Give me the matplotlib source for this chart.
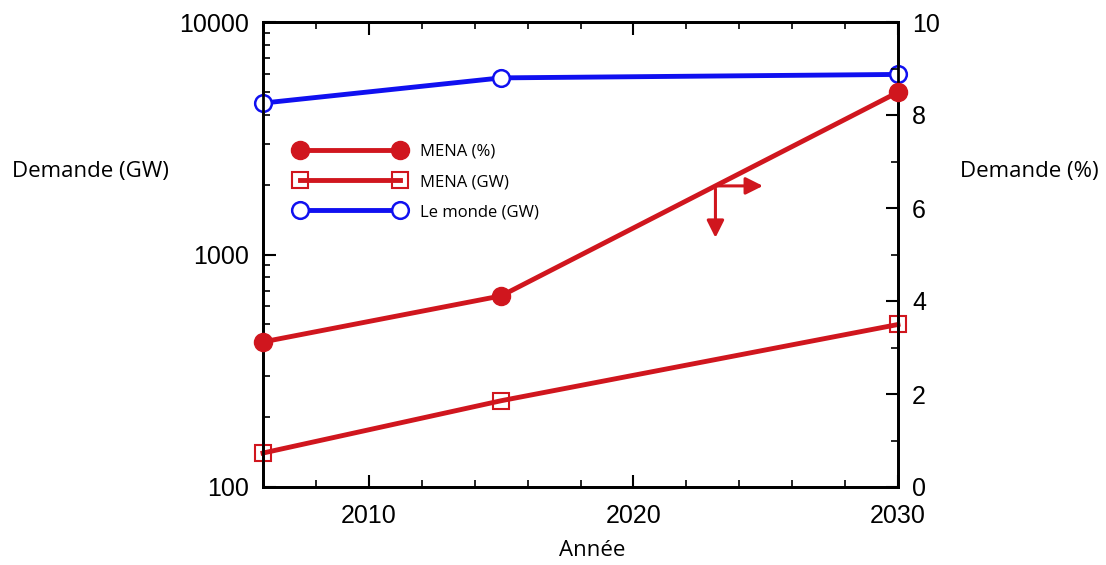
import matplotlib
matplotlib.use("Agg")
import matplotlib.pyplot as plt
from matplotlib.ticker import MultipleLocator, LogLocator, NullFormatter, FuncFormatter

years = [2006, 2015, 2030]
world_gw = [4480, 5750, 5950]
mena_gw = [140, 235, 500]
mena_pct = [3.12, 4.11, 8.49]

RED = "#d0161e"
BLUE = "#1010f0"
TICK_FONT = "Liberation Sans"
LABEL_FONT = "Open Sans"

fig = plt.figure(figsize=(11.06, 5.65), dpi=100)
ax = fig.add_axes([263 / 1106, 1 - 487 / 565, 635 / 1106, 465 / 565])
ax2 = ax.twinx()

h_world, = ax.plot(years, world_gw, color=BLUE, lw=3.5, marker="o", ms=12,
                   mfc="white", mec=BLUE, mew=1.8, clip_on=False, zorder=3)
h_gw, = ax.plot(years, mena_gw, color=RED, lw=3.5, marker="s", ms=12,
                mfc="none", mec=RED, mew=1.5, clip_on=False, zorder=3)
h_pct, = ax2.plot(years, mena_pct, color=RED, lw=3.5, marker="o", ms=13,
                  mfc=RED, mec=RED, clip_on=False, zorder=3)

ax.set_yscale("log")
ax.set_ylim(100, 10000)
ax.set_xlim(2006, 2030)
ax2.set_ylim(0, 10)

ax.xaxis.set_major_locator(MultipleLocator(10))
ax.xaxis.set_minor_locator(MultipleLocator(2))
ax.yaxis.set_major_locator(LogLocator(base=10))
ax.yaxis.set_minor_locator(LogLocator(base=10, subs=range(2, 10)))
ax.yaxis.set_minor_formatter(NullFormatter())
ax.yaxis.set_major_formatter(FuncFormatter(lambda v, p: f"{int(v)}"))
ax2.yaxis.set_major_locator(MultipleLocator(2))
ax2.yaxis.set_minor_locator(MultipleLocator(1))

ax.tick_params(axis="x", which="both", direction="in", top=True, bottom=True)
ax.tick_params(axis="y", which="both", direction="in", left=True, right=False)
ax2.tick_params(axis="y", which="both", direction="in", right=True)
for a in (ax, ax2):
    a.tick_params(which="major", length=9, width=1.5, labelsize=18, pad=10)
    a.tick_params(which="minor", length=5, width=1.2)
    for lab in a.get_xticklabels() + a.get_yticklabels():
        lab.set_fontfamily(TICK_FONT)
    for s in a.spines.values():
        s.set_linewidth(2)
ax.tick_params(axis="x", which="major", pad=12)

# arrows showing which axis the % line belongs to
x0 = 2023.1
y0 = 4.11 + (x0 - 2015) / 15 * (8.49 - 4.11)
ax2.annotate("", xy=(2025.0, y0), xytext=(x0, y0),
             arrowprops=dict(arrowstyle="-|>", color=RED, lw=2.2, mutation_scale=26))
ax2.annotate("", xy=(x0, 5.3), xytext=(x0, y0),
             arrowprops=dict(arrowstyle="-|>", color=RED, lw=2.2, mutation_scale=26))

leg = fig.legend([h_pct, h_gw, h_world], ["MENA (%)", "MENA (GW)", "Le monde (GW)"],
                 loc="upper left", bbox_to_anchor=(280 / 1106, 1 - 129 / 565),
                 frameon=False, numpoints=2, handlelength=6.6, handletextpad=0.9,
                 labelspacing=0.85, prop={"family": LABEL_FONT, "size": 12})

fig.text(12 / 1106, 1 - 172 / 565, "Demande (GW)", family=LABEL_FONT, fontsize=16,
         va="center", ha="left")
fig.text(960 / 1106, 1 - 172 / 565, "Demande (%)", family=LABEL_FONT, fontsize=16,
         va="center", ha="left")
fig.text(592 / 1106, 1 - 551 / 565, "Année", family=LABEL_FONT, fontsize=16,
         va="center", ha="center")

fig.savefig("out.png", dpi=100)
